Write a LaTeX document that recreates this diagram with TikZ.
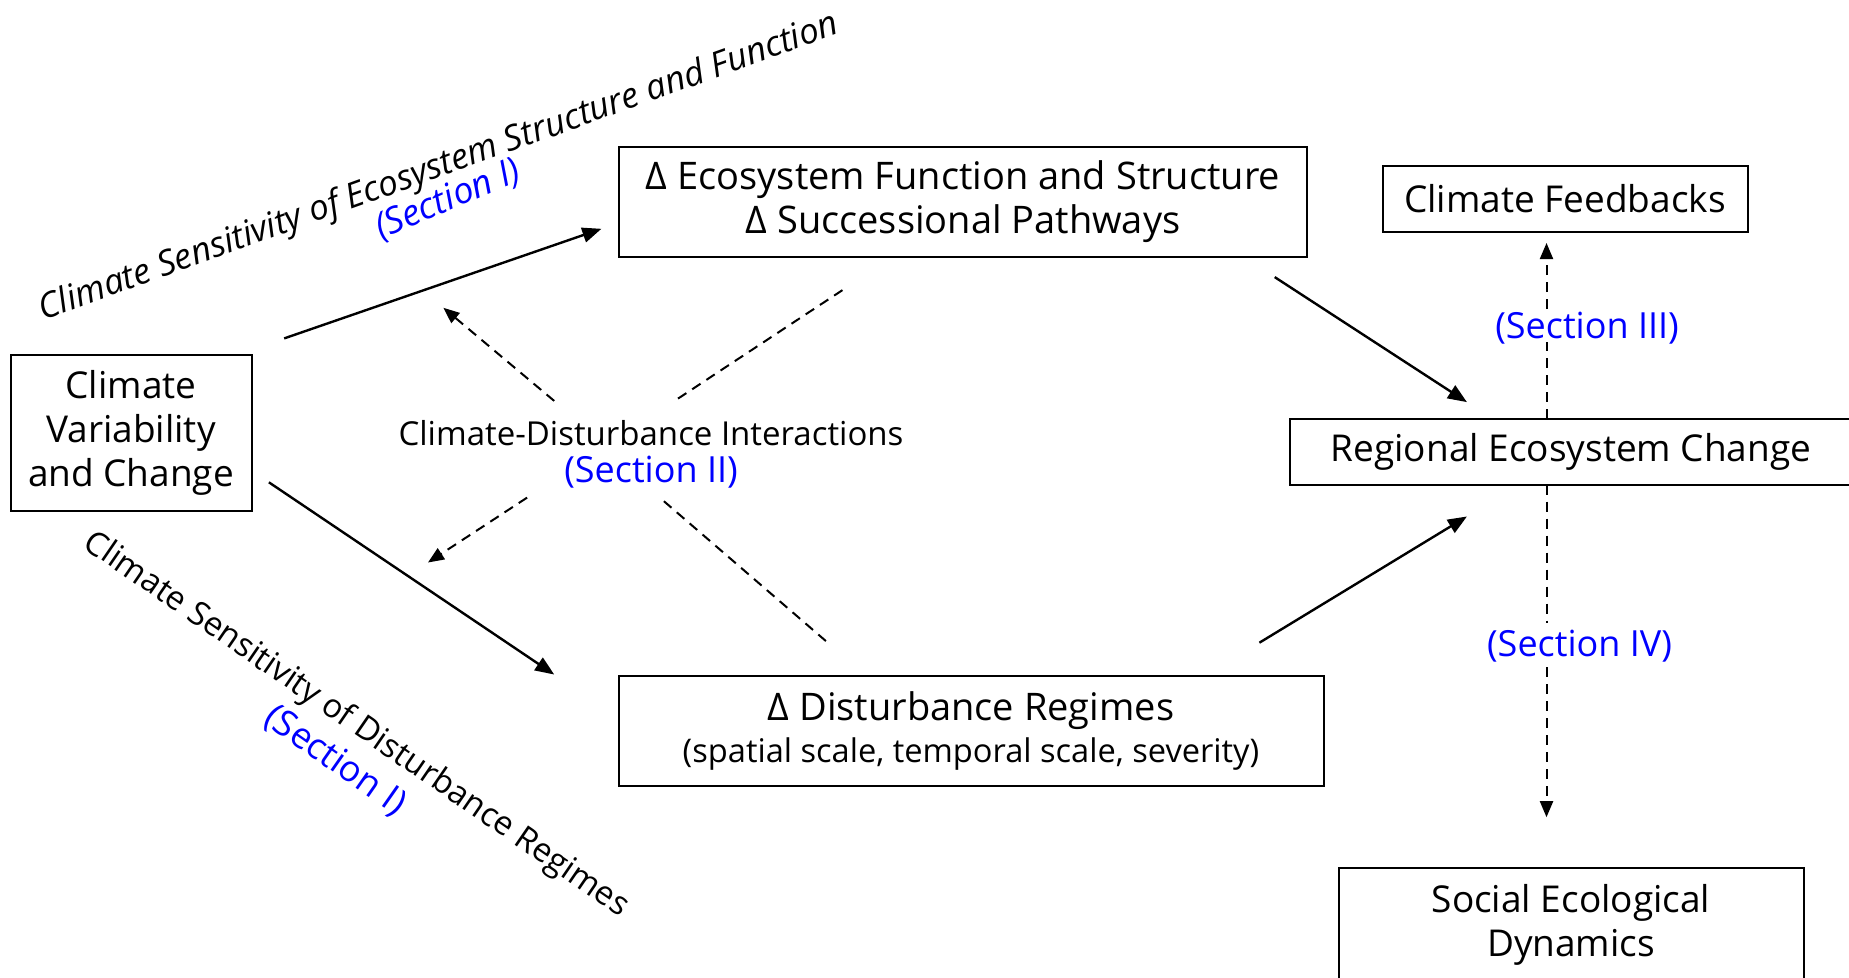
\documentclass[tikz,border=0pt]{standalone}
\usepackage{fontspec}
\setmainfont{Open Sans}
\usetikzlibrary{arrows.meta}
\definecolor{secblue}{RGB}{0,0,255}
\newcommand\bxfont{\fontsize{37}{44}\selectfont}
\newcommand\lbfont{\fontsize{33}{40}\selectfont}
\newcommand\scfont{\fontsize{36}{42}\selectfont}
\begin{document}
\begin{tikzpicture}[x=1pt,y=-1pt,
  box/.style={draw, line width=2pt, inner sep=0pt, align=center, font=\bxfont},
  conn/.style={line width=2.4pt, -{Triangle[length=19pt,width=15pt]}},
  dconn/.style={line width=2pt, dash pattern=on 10pt off 7pt, -{Triangle[length=16pt,width=13pt]}},
  dline/.style={line width=2pt, dash pattern=on 10pt off 7pt},
  lab/.style={font=\lbfont, inner sep=0pt},
  sec/.style={inner sep=0pt, font=\scfont, text=secblue}]
\useasboundingbox (0,0) rectangle (1849,977);

% boxes
\node[box, minimum width=241pt, minimum height=156pt] (cvc) at (131,433)
  {Climate\\Variability\\and Change};
\node[box, font=\fontsize{38}{44}\selectfont, minimum width=688pt, minimum height=110pt] (eco) at (963,202)
  {Δ Ecosystem Function and Structure\\Δ Successional Pathways};
\node[box, minimum width=365pt, minimum height=66pt] (fb) at (1565,199)
  {Climate Feedbacks};
\node[box, minimum width=562pt, minimum height=66pt] (reg) at (1571,451.6)
  {Regional Ecosystem Change};
\node[box, minimum width=705pt, minimum height=110pt] (dist) at (971,730.5)
  {{\fontsize{38}{44}\selectfont Δ Disturbance Regimes}\\[-2pt]{\fontsize{32.6}{38}\selectfont (spatial scale, temporal scale, severity)}};
\node[box, minimum width=465pt, minimum height=114pt] (sed) at (1571,925)
  {Social Ecological\\Dynamics};

% labels
\node[lab] (cdi) at (651,433) {Climate-Disturbance Interactions};
\node[sec] (s2) at (651,472) {(Section II)};
\node[sec] (s3) at (1587,328) {(Section III)};
\node[sec] (s4) at (1579.5,646) {(Section IV)};
\node[lab, font=\fontsize{34.9}{40}\selectfont\itshape, rotate=19.8] (cse) at (439,168)
  {Climate Sensitivity of Ecosystem Structure and Function};
\node[sec, font=\scfont\itshape, rotate=23] (s1a) at (448,200) {(Section I)};
\node[lab, rotate=-34.5] (csd) at (356,725)
  {Climate Sensitivity of Disturbance Regimes};
\node[sec, rotate=-35] (s1b) at (335,761) {(Section I)};

% connector end points
\coordinate (p1) at (284.2,338.4);  \coordinate (q1) at (601.4,228.8);
\coordinate (p2) at (268.9,482.3);  \coordinate (q2) at (554.2,674.5);
\coordinate (p3) at (1274.7,277.1); \coordinate (q3) at (1466.9,402.1);
\coordinate (p4) at (1259.4,642.7); \coordinate (q4) at (1466.9,516.5);
\coordinate (d1s) at (554.2,400.9); \coordinate (d1e) at (443.4,307.8);
\coordinate (d2s) at (678,398.6);   \coordinate (d2e) at (844.3,288.9);
\coordinate (d3s) at (527.1,497.6); \coordinate (d3e) at (428,562.5);
\coordinate (d4s) at (663.9,501.2); \coordinate (d4e) at (827.8,642.7);
\coordinate (vu0) at (1546.5,418.6); \coordinate (vu1) at (1546.5,342);
\coordinate (vu2) at (1546.5,309);   \coordinate (vu3) at (1546.5,243);
\coordinate (vd0) at (1546.5,484.7); \coordinate (vd1) at (1546.5,622.6);
\coordinate (vd2) at (1546.5,667.4); \coordinate (vd3) at (1546.5,817.2);

% solid arrows
\draw[conn] (p1) -- (q1);
\draw[conn] (p2) -- (q2);
\draw[conn] (p3) -- (q3);
\draw[conn] (p4) -- (q4);

% dashed interaction links
\draw[dconn] (d1s) -- (d1e);
\draw[dline] (d2s) -- (d2e);
\draw[dconn] (d3s) -- (d3e);
\draw[dline] (d4s) -- (d4e);

% vertical links to feedbacks and social dynamics
\draw[dline] (vu0) -- (vu1);
\draw[dconn] (vu2) -- (vu3);
\draw[dline] (vd0) -- (vd1);
\draw[dconn] (vd2) -- (vd3);
\end{tikzpicture}
\end{document}
